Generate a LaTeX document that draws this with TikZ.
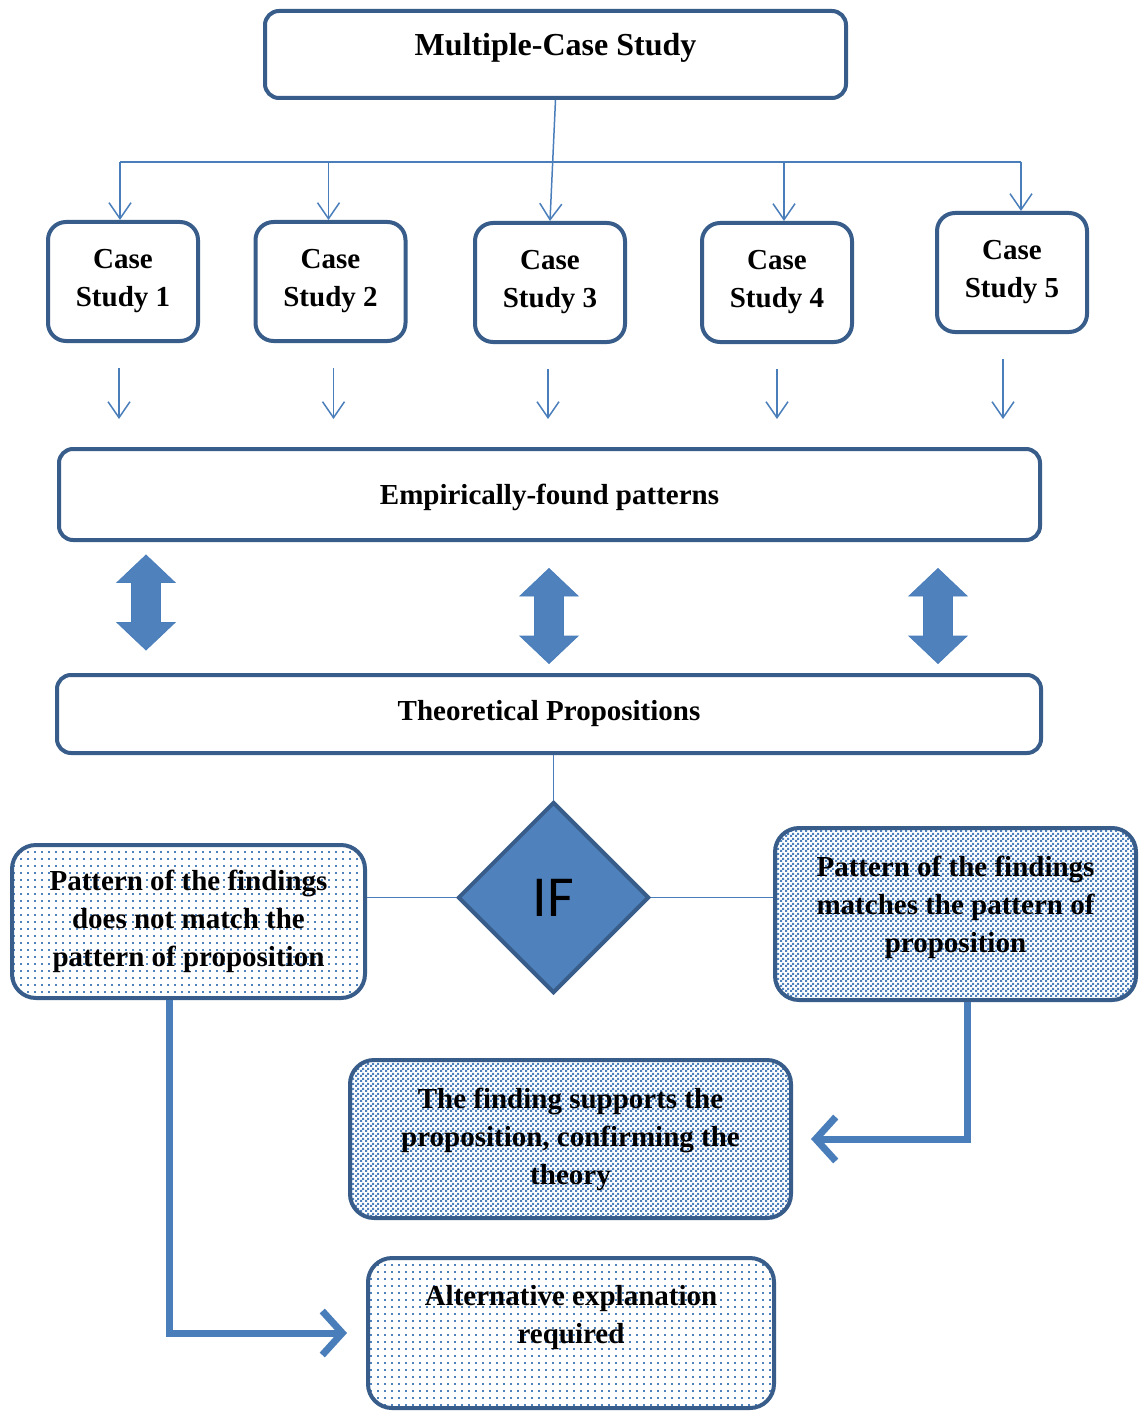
\documentclass[tikz,border=0pt]{standalone}
\usepackage{fontspec}
\setmainfont{Liberation Serif}
\newfontfamily\sefont{Carlito}
\usetikzlibrary{shapes.geometric, arrows.meta, patterns.meta}
\definecolor{bordo}{HTML}{385D8A}
\definecolor{linea}{HTML}{4A7EBB}
\definecolor{riemp}{HTML}{4F81BD}

% Retini delle scatole in basso
\tikzdeclarepattern{name=puntini, type=uncolored,
  bottom left={(-3.5pt,-3.5pt)}, top right={(3.5pt,3.5pt)}, tile size={(7pt,7pt)},
  code={\fill (-0.8pt,-0.8pt) rectangle (0.8pt,0.8pt);}}
\tikzdeclarepattern{name=scacchi, type=uncolored,
  bottom left={(0pt,0pt)}, top right={(5pt,5pt)}, tile size={(5pt,5pt)},
  code={\fill (0pt,0pt) rectangle (2.5pt,2.5pt); \fill (2.5pt,2.5pt) rectangle (5pt,5pt);}}

\begin{document}
\begin{tikzpicture}[x=1pt, y=-1pt,
    scatola/.style={draw=bordo, line width=4pt, rounded corners=14pt, fill=white,
      align=center, inner sep=0pt, font=\bfseries\fontsize{29}{38}\selectfont},
    caso/.style={scatola, rounded corners=18pt, minimum width=150pt, minimum height=119pt},
    retino/.style={scatola, rounded corners=24pt, fill=none, pattern=#1, pattern color=riemp},
    link/.style={draw=linea, line width=1.5pt},
    punta/.style={link, -{Straight Barb[length=16pt, width=22pt]}},
    freccia/.style={draw=linea, line width=7pt, -{Straight Barb[length=20pt, width=44pt]}},
    doppia/.pic={\fill[riemp, draw=linea, line width=0.8pt]
      (0,-47.5) -- (29,-20) -- (14.5,-20) -- (14.5,20) -- (29,20) -- (0,47.5)
      -- (-29,20) -- (-14.5,20) -- (-14.5,-20) -- (-29,-20) -- cycle;}]
        \useasboundingbox (0,0) rectangle (1140,1412);

        % Studio multiplo
        \node[scatola, minimum width=581pt, minimum height=87pt, text depth=20pt,
              font=\bfseries\fontsize{32}{38}\selectfont] (multi) at (555.5,54.5) {Multiple-Case Study};

        % Casi di studio
        \node[caso] (cs1) at (123,281.5) {Case\\Study 1};
        \node[caso] (cs2) at (330.5,281.5) {Case\\Study 2};
        \node[caso] (cs3) at (550,282.5) {Case\\Study 3};
        \node[caso] (cs4) at (777,282.5) {Case\\Study 4};
        \node[caso] (cs5) at (1012,272.5) {Case\\Study 5};

        % Linea di distribuzione
        \coordinate (bus) at (554,162);
        \draw[link] ([xshift=-3pt]cs1.north |- bus) -- ([xshift=9pt]cs5.north |- bus);
        \draw[punta] (multi.south) -- (cs3.north);
        \foreach \c/\dx in {cs1/-3, cs2/-2, cs4/7, cs5/9}
            \draw[punta] ([xshift=\dx pt]\c.north |- bus) -- ([xshift=\dx pt]\c.north);

        % Pattern empirici e proposizioni
        \node[scatola, minimum width=981pt, minimum height=91pt, text height=26pt] (emp) at (549.5,494.5) {Empirically-found patterns};
        \node[scatola, minimum width=984pt, minimum height=78pt] (teo) at (549,714) {Theoretical Propositions};

        \foreach \c/\dx in {cs1/-4, cs2/3, cs3/-2, cs4/0, cs5/-9}
            \draw[punta, shorten <=25pt, shorten >=28pt] ([xshift=\dx pt]\c.south) -- ([xshift=\dx pt]\c.south |- emp.north);

        % Frecce doppie
        \pic at (146,602.5) {doppia};
        \pic at (549,616) {doppia};
        \pic at (938,616) {doppia};

        % Decisione
        \node[diamond, draw=bordo, line width=4pt, fill=riemp, minimum width=191pt, minimum height=191pt,
              inner sep=0pt, font=\sefont\fontsize{58}{58}\selectfont] (se) at (553.5,897.5) {IF};
        \node[retino=puntini, minimum width=353pt, minimum height=153pt] (nomatch) at (188.5,921.5)
            {Pattern of the findings\\does not match the\\pattern of proposition};
        \node[retino=scacchi, minimum width=361pt, minimum height=172pt, text depth=20pt] (match) at (955.5,914)
            {Pattern of the findings\\matches the pattern of\\proposition};
        \draw[link] (se.north |- teo.south) -- (se.north);
        \draw[link] (nomatch.east |- se.west) -- (se.west);
        \draw[link] (se.east) -- (se.east -| match.west);

        % Esiti
        \node[retino=scacchi, minimum width=441pt, minimum height=158pt] (conferma) at (570.5,1139)
            {The finding supports the\\proposition, confirming the\\theory};
        \node[retino=puntini, minimum width=406pt, minimum height=150pt, text depth=38pt] (altra) at (571,1333)
            {Alternative explanation\\required};
        \draw[freccia, shorten >=18pt] ([xshift=12pt]match.south) |- (conferma.east);
        \draw[freccia, shorten >=19pt] ([xshift=-19pt]nomatch.south) |- (altra.west);
    \end{tikzpicture}
\end{document}
